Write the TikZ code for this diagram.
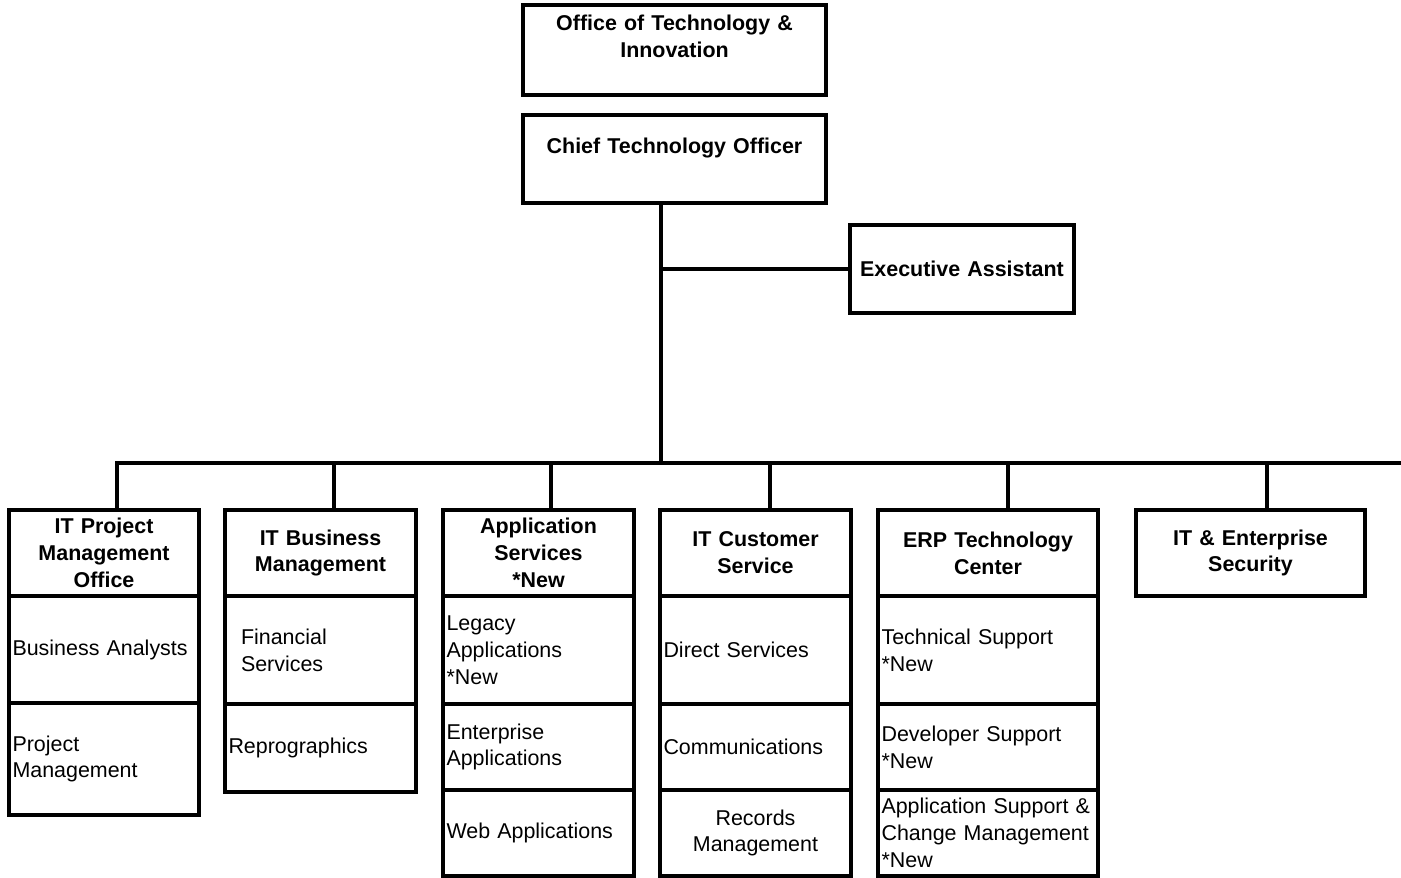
\documentclass[tikz,border=0pt]{standalone}
\usepackage{fontspec}
\setmainfont{Liberation Sans}
\usetikzlibrary{positioning}

\newcommand{\chartfont}{\fontsize{12.2}{15.3}\selectfont}

\tikzset{
    box/.style={draw, line width=2.2pt, outer sep=0pt, inner xsep=2pt, inner ysep=1pt, font=\chartfont},
    head/.style={box, font=\chartfont\bfseries, align=center, minimum height=1.72cm},
    cell/.style={box, align=left},
}

\begin{document}
\begin{tikzpicture}[x=0.02cm, y=-0.02cm]
        \useasboundingbox (0,0) rectangle (1401,878);
        % Top of the chart
        \node[head, text width=5.92cm, minimum height=1.8cm] (oti) at (674.5,50) {Office of Technology \&\\ Innovation\\ ~};
        \node[head, text width=5.92cm, minimum height=1.76cm] (cto) at (674.5,159) {Chief Technology Officer\\ ~};
        \node[head, text width=4.34cm, minimum height=1.76cm] (ea) at (962,269) {Executive Assistant};
        % Division headers
        \node[head, text width=3.66cm] (pmo) at (104,553) {IT Project\\ Management\\ Office};
        \node[head, text width=3.68cm] (ibm) at (320.5,553) {IT Business\\ Management};
        \node[head, text width=3.68cm] (aps) at (538.5,553) {Application\\ Services\\ {*}New};
        \node[head, text width=3.68cm] (ics) at (755.5,553) {IT Customer\\ Service};
        \node[head, text width=4.26cm] (erp) at (988,553) {ERP Technology\\ Center};
        \node[head, text width=4.44cm] (sec) at (1250.5,553) {IT \& Enterprise\\ Security};
        % Units under each division
        \node[cell, text width=3.66cm, minimum height=2.14cm, below=0pt of pmo] (pmo1) {Business Analysts};
        \node[cell, text width=3.66cm, minimum height=2.24cm, below=0pt of pmo1] (pmo2) {Project\\ Management};
        \node[cell, inner xsep=9pt, text width=3.18cm, minimum height=2.16cm, below=0pt of ibm] (ibm1) {Financial\\ Services};
        \node[cell, text width=3.68cm, minimum height=1.76cm, below=0pt of ibm1] (ibm2) {Reprographics};
        \node[cell, text width=3.68cm, minimum height=2.16cm, below=0pt of aps] (aps1) {Legacy\\ Applications\\ {*}New};
        \node[cell, text width=3.68cm, minimum height=1.72cm, below=0pt of aps1] (aps2) {Enterprise\\ Applications};
        \node[cell, text width=3.68cm, minimum height=1.72cm, below=0pt of aps2] (aps3) {Web Applications};
        \node[cell, text width=3.68cm, minimum height=2.16cm, below=0pt of ics] (ics1) {Direct Services};
        \node[cell, text width=3.68cm, minimum height=1.72cm, below=0pt of ics1] (ics2) {Communications};
        \node[cell, align=center, text width=3.68cm, minimum height=1.72cm, below=0pt of ics2] (ics3) {Records\\ Management};
        \node[cell, text width=4.26cm, minimum height=2.16cm, below=0pt of erp] (erp1) {Technical Support\\ {*}New};
        \node[cell, text width=4.26cm, minimum height=1.72cm, below=0pt of erp1] (erp2) {Developer Support\\ {*}New};
        \node[cell, text width=4.26cm, minimum height=1.72cm, below=0pt of erp2] (erp3) {Application Support \&\\ Change Management\\ {*}New};
        % Trunk and bus
        \coordinate (trunk) at (661,463);
        \coordinate (busend) at (1401,463);
        \coordinate (d1) at (117,463);
        \coordinate (d2) at (334,463);
        \coordinate (d3) at (551,463);
        \coordinate (d4) at (770,463);
        \coordinate (d5) at (1008,463);
        \coordinate (d6) at (1267,463);
        \draw[line width=2.2pt] (cto.south -| trunk) -- (trunk);
        \draw[line width=2.2pt] (trunk |- ea.west) -- (ea.west);
        \draw[line width=2.2pt] (d1 |- pmo.north) -- (d1) -- (busend);
        \foreach \d/\h in {d2/ibm, d3/aps, d4/ics, d5/erp, d6/sec} {
            \draw[line width=2.2pt] (\d) -- (\d |- \h.north);
        }
    \end{tikzpicture}
\end{document}
